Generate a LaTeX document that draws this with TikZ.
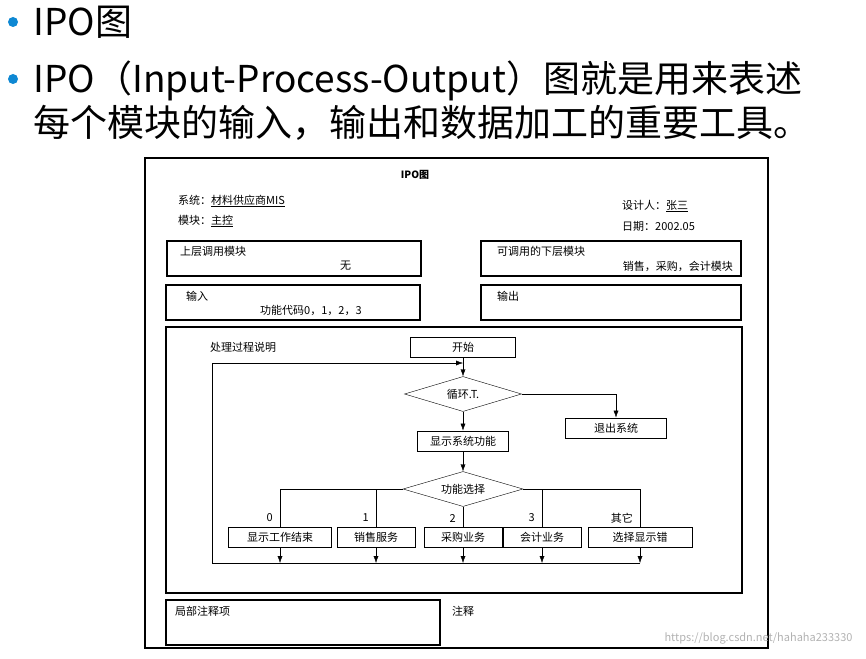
\documentclass[tikz,border=0pt]{standalone}
\usepackage{fontspec}
\setmainfont{Noto Sans CJK SC}
\usetikzlibrary{shapes.geometric,arrows.meta}
\tikzset{
  box/.style={draw,thick,minimum height=20pt,inner sep=2pt,font=\fontsize{11}{12}\selectfont},
  choice/.style={draw,diamond,aspect=3.3,inner sep=1pt,minimum width=117pt,minimum height=35pt,font=\fontsize{11}{12}\selectfont},
  txt/.style={anchor=west,inner sep=0pt,font=\fontsize{11}{12}\selectfont},
  flow/.style={-{Latex[length=7pt,width=5pt]}},
  frame/.style={draw,line width=1.4pt}
}
\begin{document}
\begin{tikzpicture}[x=1pt,y=-1pt]
\useasboundingbox (0,0) rectangle (866,658);
% headline
\fill[cyan!70!blue] (13,22) circle(5pt) (13,79) circle(5pt);
\node[anchor=west,font=\fontsize{37}{44}\selectfont] (head) at (30,22) {IPO图};
\node[anchor=west,align=left,font=\fontsize{37}{44}\selectfont] (intro) at (30,101)
  {IPO（Input-Process-Output）图就是用来表述\\每个模块的输入，输出和数据加工的重要工具。};
% form frame
\draw[frame] (145,158) rectangle (768,648);
\node[font=\bfseries\fontsize{10}{12}\selectfont] (title) at (415,175) {IPO图};
\node[txt] (sys) at (178,201) {系统：\underline{材料供应商MIS}};
\node[txt] (mod) at (178,221) {模块：\underline{主控}};
\node[txt] (who) at (622,206) {设计人：\underline{张三}};
\node[txt] (date) at (622,226) {日期：2002.05};
\draw[frame] (167,241) rectangle (421,276);
\node[txt] (upper) at (180,251) {上层调用模块};
\node[txt] (none) at (340,266) {无};
\draw[frame] (481,241) rectangle (741,276);
\node[txt] (lower) at (497,251) {可调用的下层模块};
\node[txt,anchor=east] (lowerv) at (733,266) {销售，采购，会计模块};
\draw[frame] (166,285) rectangle (420,320);
\node[txt] (in) at (186,296) {输入};
\node[txt] (inv) at (260,310) {功能代码0，1，2，3};
\draw[frame] (481,285) rectangle (741,320);
\node[txt] (out) at (497,296) {输出};
\draw[frame] (166,327) rectangle (742,593);
\node[txt] (proc) at (210,347) {处理过程说明};
% flow chart
\node[box,minimum width=105pt] (start) at (463,347) {开始};
\coordinate (join) at (463,363);
\node[choice] (loop) at (463,394) {循环.T.};
\node[box,minimum width=101pt] (quit) at (616,428) {退出系统};
\node[box,minimum width=91pt] (show) at (463,441) {显示系统功能};
\node[choice,minimum width=120pt] (sel) at (463,489) {功能选择};
\foreach \n/\x/\w/\t/\k in {a/280/103/显示工作结束/0,b/376/78/销售服务/1,c/463/78/采购业务/2,d/542/78/会计业务/3,e/640/104/选择显示错/其它}{
  \node[box,minimum width=\w pt] (\n) at (\x,537) {\t};
  \node[txt,anchor=east] (l\n) at (\x-7,518) {\k};
  \draw[flow] (\n.south) -- (\x,563);
}
\draw (start) -- (join);
\draw[flow] (join) -- (loop.north);
\draw[flow] (loop.east) -| (quit.north);
\draw[flow] (loop.south) -- (show.north);
\draw[flow] (show.south) -- (sel.north);
\draw (sel.west) -| (a.north) (sel.west) -| (b.north);
\draw (sel.east) -| (e.north) (sel.east) -| (d.north);
\draw (sel.south) -- (c.north);
\draw[flow] (640,563) -- (212,563) -- (212,363) -- (join);
% notes
\draw[frame] (166,600) rectangle (440,645);
\node[txt] (local) at (175,611) {局部注释项};
\node[txt] (note) at (452,611) {注释};
\node[anchor=east,text=gray!60,font=\fontsize{11}{12}\selectfont] (mark) at (856,638) {https://blog.csdn.net/hahaha233330};
\end{tikzpicture}
\end{document}
